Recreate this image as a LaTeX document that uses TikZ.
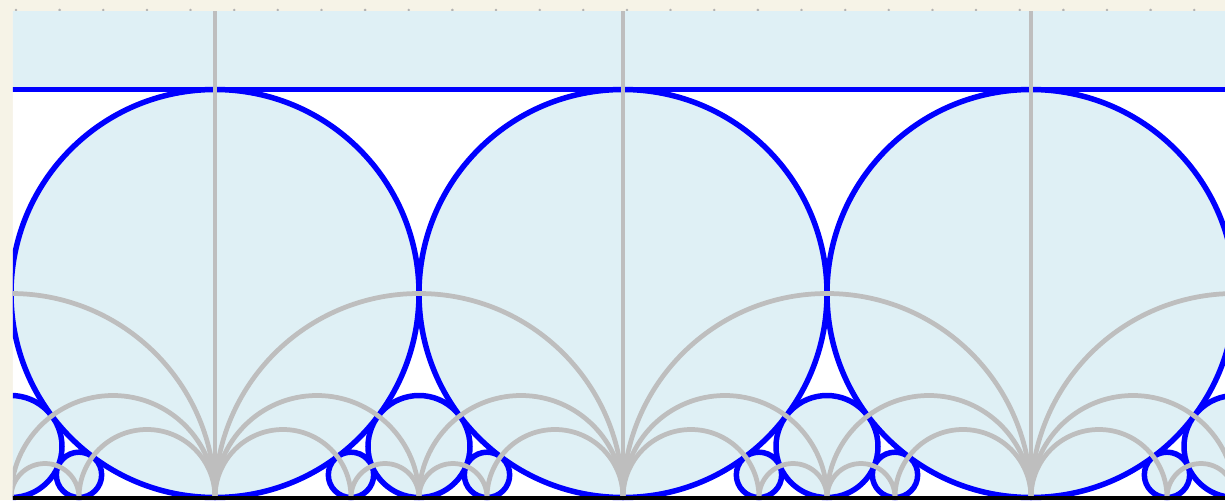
\documentclass[tikz,border=0pt]{standalone}
\usetikzlibrary{calc}
\definecolor{paper}{HTML}{F6F3E7}
\definecolor{halfplane}{HTML}{DFF0F5}
\definecolor{fordblue}{HTML}{0000FF}
\definecolor{geodesic}{HTML}{BEBEBE}
% Farey geodesic: semicircle from #1 to #2 on the real axis
\newcommand\geod[2]{\draw[farey] (#1,0) arc[start angle=180,end angle=0,radius={((#2)-(#1))/2}];}

\begin{document}
\begin{tikzpicture}[x=8.16cm,y=8.16cm,
   ford/.style={draw=fordblue,line width=0.11cm,fill=halfplane},
   farey/.style={draw=geodesic,line width=0.095cm},
   gridpt/.style={fill=black!30}]
  \useasboundingbox[fill=paper] (-0.52696,-0.00613) rectangle (2.47549,1.21936);
  % dot ruler along the top margin
  \foreach \k in {0,...,27}
    \fill[gridpt] ({(16+43.64*\k-215)/408},1.19485) circle (0.028cm);
  \begin{scope}
    \clip (-0.4951,-0.00613) rectangle (2.4755,1.18995);
    \fill[white] (-1,-0.1) rectangle (3,1.3);
    % region above y=1
    \fill[halfplane] (-1,1) rectangle (3,1.3);
    \draw[fordblue,line width=0.11cm] (-1,1) -- (3,1);
    % Ford circles with denominator up to 3
    \foreach \n in {-1,...,3} {
      \filldraw[ford] (\n,0.5) circle (0.5);
      \filldraw[ford] (\n+0.5,1/8) circle (1/8);
      \filldraw[ford] (\n+1/3,1/18) circle (1/18);
      \filldraw[ford] (\n+2/3,1/18) circle (1/18);
    }
    % Farey tessellation
    \foreach \n in {-1,...,2} {
      \geod{\n}{\n+1}
      \geod{\n}{\n+1/2}
      \geod{\n+1/2}{\n+1}
      \geod{\n}{\n+1/3}
      \geod{\n+2/3}{\n+1}
      \geod{\n+1/3}{\n+1/2}
      \geod{\n+1/2}{\n+2/3}
    }
    \foreach \n in {-1,...,3}
      \draw[farey] (\n,0) -- (\n,1.3);
    % real axis
    \draw[black,line width=0.08cm] (-1,0) -- (3,0);
  \end{scope}
\end{tikzpicture}
\end{document}
